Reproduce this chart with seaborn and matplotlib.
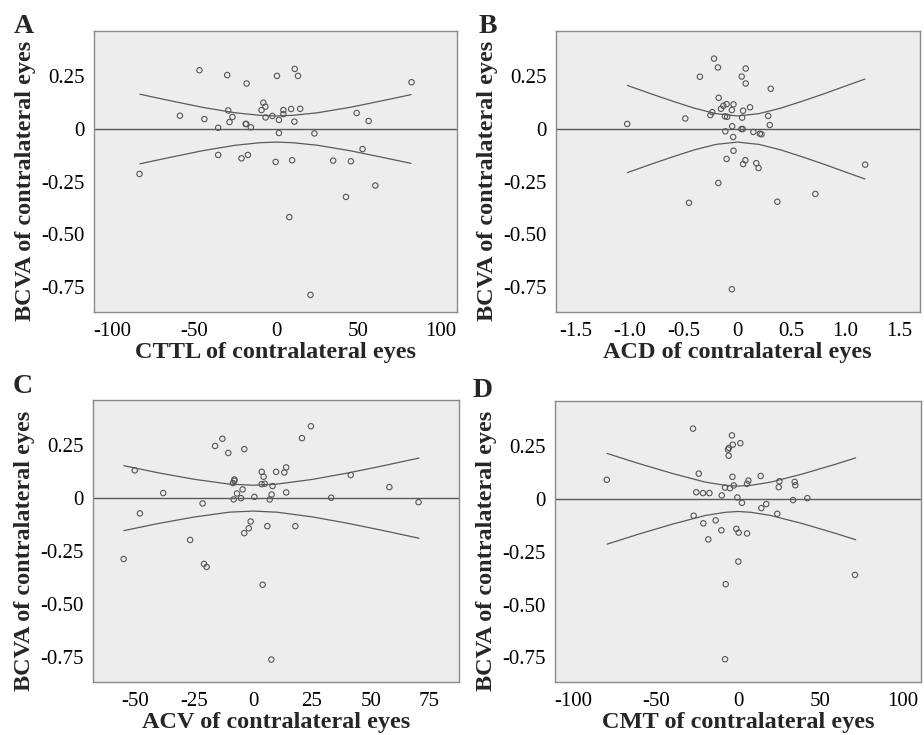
import numpy as np
import pandas as pd
import matplotlib
matplotlib.use('Agg')
import matplotlib.pyplot as plt
import seaborn as sns

# panel A - CTTL
a_x = [-46.8, -29.9, -18.1, 0.4, 11.2, 13.2, 82.3, -58.7, -43.8, -35.4, -29.3, -28.5,
       -26.7, -18.7, -18.3, -15.5, -9.0, -7.9, -6.7, -6.5, -2.4, 1.6, 1.6, 4.3, 4.3,
       9.0, 11.0, 14.5, 23.2, 48.9, 56.2, 52.5, -35.4, -21.2, -17.3, -0.4, 9.6, 34.6,
       45.4, -83.3, 60.3, 42.4, 7.9, 20.8]
a_y = [0.279, 0.256, 0.216, 0.252, 0.285, 0.252, 0.222, 0.063, 0.047, 0.006, 0.088, 0.033,
       0.057, 0.024, 0.024, 0.008, 0.090, 0.125, 0.106, 0.055, 0.062, 0.043, -0.019, 0.090, 0.071,
       0.095, 0.035, 0.096, -0.021, 0.076, 0.038, -0.095, -0.123, -0.139, -0.123, -0.156, -0.148, -0.150,
       -0.153, -0.213, -0.268, -0.322, -0.418, -0.787]
a_band_x = [-83, -65, -45, -25, -10, 0, 10, 25, 45, 65, 82]
a_band = [0.165, 0.135, 0.103, 0.077, 0.065, 0.062, 0.065, 0.077, 0.103, 0.135, 0.163]

# panel B - ACD
b_x = [-0.217, -0.181, 0.076, -0.348, 0.039, 0.076, 0.308, -0.174, -0.101, -0.131, -0.037,
       -0.153, -0.233, -0.251, -0.052, 0.052, 0.116, -0.116, -0.095, 0.043, 0.284, 0.299,
       -0.483, -1.021, -0.049, 0.037, 0.049, -0.113, 0.147, 0.207, 0.222, -0.040, -0.037,
       -0.101, 0.073, 0.052, 0.174, 0.195, 1.182, -0.177, 0.721, -0.449, 0.369, -0.052]
b_y = [0.334, 0.292, 0.287, 0.248, 0.249, 0.216, 0.191, 0.148, 0.118, 0.110, 0.117,
       0.096, 0.080, 0.066, 0.090, 0.087, 0.103, 0.060, 0.058, 0.054, 0.062, 0.019,
       0.050, 0.024, 0.013, 0.000, 0.000, -0.011, -0.014, -0.022, -0.025, -0.038, -0.103,
       -0.142, -0.148, -0.166, -0.162, -0.185, -0.169, -0.256, -0.308, -0.350, -0.345, -0.760]
b_band_x = [-1.02, -0.8, -0.6, -0.4, -0.2, 0, 0.2, 0.4, 0.6, 0.8, 1.0, 1.18]
b_band = [0.207, 0.167, 0.132, 0.099, 0.073, 0.062, 0.073, 0.099, 0.132, 0.167, 0.204, 0.237]

# panel C - ACV
c_x = [24.6, 20.8, -13.0, -16.1, -3.7, -10.5, -50.2, 14.1, 3.7, 9.8, 13.3, 4.5, -7.9, -7.9,
       -8.5, 3.7, 5.0, 8.3, -4.4, -38.1, -6.8, 7.9, 14.1, 0.6, -5.1, -8.2, 7.1, 33.2, 41.5,
       57.9, 70.3, -21.4, -48.0, -1.0, -1.8, -3.7, 6.1, 18.0, -26.7, -54.9, -20.8, -19.7,
       4.1, 7.8]
c_y = [0.339, 0.283, 0.280, 0.246, 0.231, 0.213, 0.131, 0.145, 0.124, 0.124, 0.121, 0.101, 0.088, 0.082,
       0.071, 0.066, 0.068, 0.057, 0.041, 0.024, 0.022, 0.017, 0.027, 0.006, 0.000, -0.006, -0.006, 0.002, 0.109,
       0.052, -0.019, -0.025, -0.072, -0.110, -0.142, -0.165, -0.132, -0.132, -0.197, -0.287, -0.310, -0.324,
       -0.408, -0.761]
c_band_x = [-54.8, -40, -25, -10, 0, 10, 25, 40, 55, 70.5]
c_band = [0.153, 0.119, 0.089, 0.066, 0.061, 0.066, 0.088, 0.118, 0.152, 0.189]

# panel D - CMT
d_x = [-27.4, -3.7, 1.4, -3.2, -5.5, -6.1, -5.7, -79.9, -23.9, -3.4, 13.8, 6.3, 5.5, -2.6,
       -7.9, -4.9, 25.2, 24.8, 34.5, 34.9, -25.4, -21.3, -17.4, -9.9, -0.4, 42.2, 33.5, 2.4,
       17.2, 14.2, 23.9, -27.0, -21.1, -13.6, -10.1, -18.1, -1.0, 0.4, 5.5, 0.2, -7.5, 71.2, -7.9]
d_y = [0.332, 0.300, 0.263, 0.256, 0.241, 0.233, 0.204, 0.090, 0.119, 0.104, 0.108, 0.086, 0.071, 0.063,
       0.053, 0.050, 0.083, 0.055, 0.080, 0.064, 0.031, 0.027, 0.027, 0.016, 0.006, 0.003, -0.006, -0.019,
       -0.025, -0.044, -0.071, -0.080, -0.116, -0.102, -0.149, -0.192, -0.142, -0.160, -0.164, -0.297, -0.404, -0.360, -0.759]
d_band_x = [-79.7, -60, -40, -20, -8, 0, 8, 20, 40, 60, 71.6]
d_band = [0.2145, 0.166, 0.120, 0.079, 0.064, 0.060, 0.064, 0.079, 0.119, 0.165, 0.1935]

letters = ['A', 'B', 'C', 'D']
xlabels = ['CTTL of contralateral eyes', 'ACD of contralateral eyes',
           'ACV of contralateral eyes', 'CMT of contralateral eyes']
ylabel = 'BCVA of contralateral eyes'
xlims = [(-111, 110), (-1.68, 1.685), (-67.8, 87.6), (-111.4, 111.2)]
xticks = [[-100, -50, 0, 50, 100],
          [-1.5, -1.0, -0.5, 0, 0.5, 1.0, 1.5],
          [-50, -25, 0, 25, 50, 75],
          [-100, -50, 0, 50, 100]]
xticklabels = [['-100', '-50', '0', '50', '100'],
               ['-1.5', '-1.0', '-0.5', '0', '0.5', '1.0', '1.5'],
               ['-50', '-25', '0', '25', '50', '75'],
               ['-100', '-50', '0', '50', '100']]
yticks = [0.25, 0, -0.25, -0.50, -0.75]
yticklabels = ['0.25', '0', '-0.25', '-0.50', '-0.75']

sns.set_style('white')
plt.rcParams['font.family'] = ['Liberation Serif', 'DejaVu Serif']

fig = plt.figure(figsize=(9.24, 7.35), dpi=100)
W, H = 924, 735
# axes boxes in pixels: left, top, right, bottom
boxes = [(94, 31, 457, 312), (556, 31, 919.5, 312),
         (93.3, 399.5, 459.3, 682.3), (555, 400.5, 920.7, 682.3)]
letter_pos = [(14, 33), (479, 33), (13, 393), (473, 397)]

panels = [(a_x, a_y, a_band_x, a_band), (b_x, b_y, b_band_x, b_band),
          (c_x, c_y, c_band_x, c_band), (d_x, d_y, d_band_x, d_band)]

frame_col = '#8a8a8a'
line_col = '#5a5a5a'

for i, (px, py, bx, bh) in enumerate(panels):
    l, t, r, b = boxes[i]
    ax = fig.add_axes([l / W, 1 - b / H, (r - l) / W, (b - t) / H])
    ax.set_facecolor('#ededed')

    ax.axhline(0, color=line_col, lw=1.0, zorder=2)
    band = pd.DataFrame({'x': bx, 'hi': bh})
    band['lo'] = -band['hi']
    sns.lineplot(data=band, x='x', y='hi', ax=ax, color=line_col, lw=0.9, sort=True,
                 estimator=None, zorder=2)
    sns.lineplot(data=band, x='x', y='lo', ax=ax, color=line_col, lw=0.9, sort=True,
                 estimator=None, zorder=2)

    pts = pd.DataFrame({'x': px, 'y': py})
    sns.scatterplot(data=pts, x='x', y='y', ax=ax, marker='o', s=15,
                    facecolor='none', edgecolor='#555555', linewidth=0.8, zorder=3)

    ax.set_xlim(*xlims[i])
    ax.set_ylim(-0.868, 0.465)
    ax.set_xticks(xticks[i])
    ax.set_xticklabels(xticklabels[i])
    ax.set_yticks(yticks)
    ax.set_yticklabels(yticklabels)
    ax.tick_params(direction='out', length=5, width=1, color=frame_col,
                   labelsize=15, pad=2, labelcolor='black')
    for sp in ax.spines.values():
        sp.set_color(frame_col)
        sp.set_linewidth(1.0)

    ax.set_xlabel(xlabels[i], fontsize=17.5, fontweight='bold', labelpad=1)
    ax.set_ylabel(ylabel, fontsize=17.5, fontweight='bold')
    ax.yaxis.set_label_coords(-58 / (r - l), 0.465)

    fig.text(letter_pos[i][0] / W, 1 - letter_pos[i][1] / H, letters[i],
             fontsize=20, fontweight='bold', ha='left', va='baseline')

fig.savefig('out.png', dpi=100)
